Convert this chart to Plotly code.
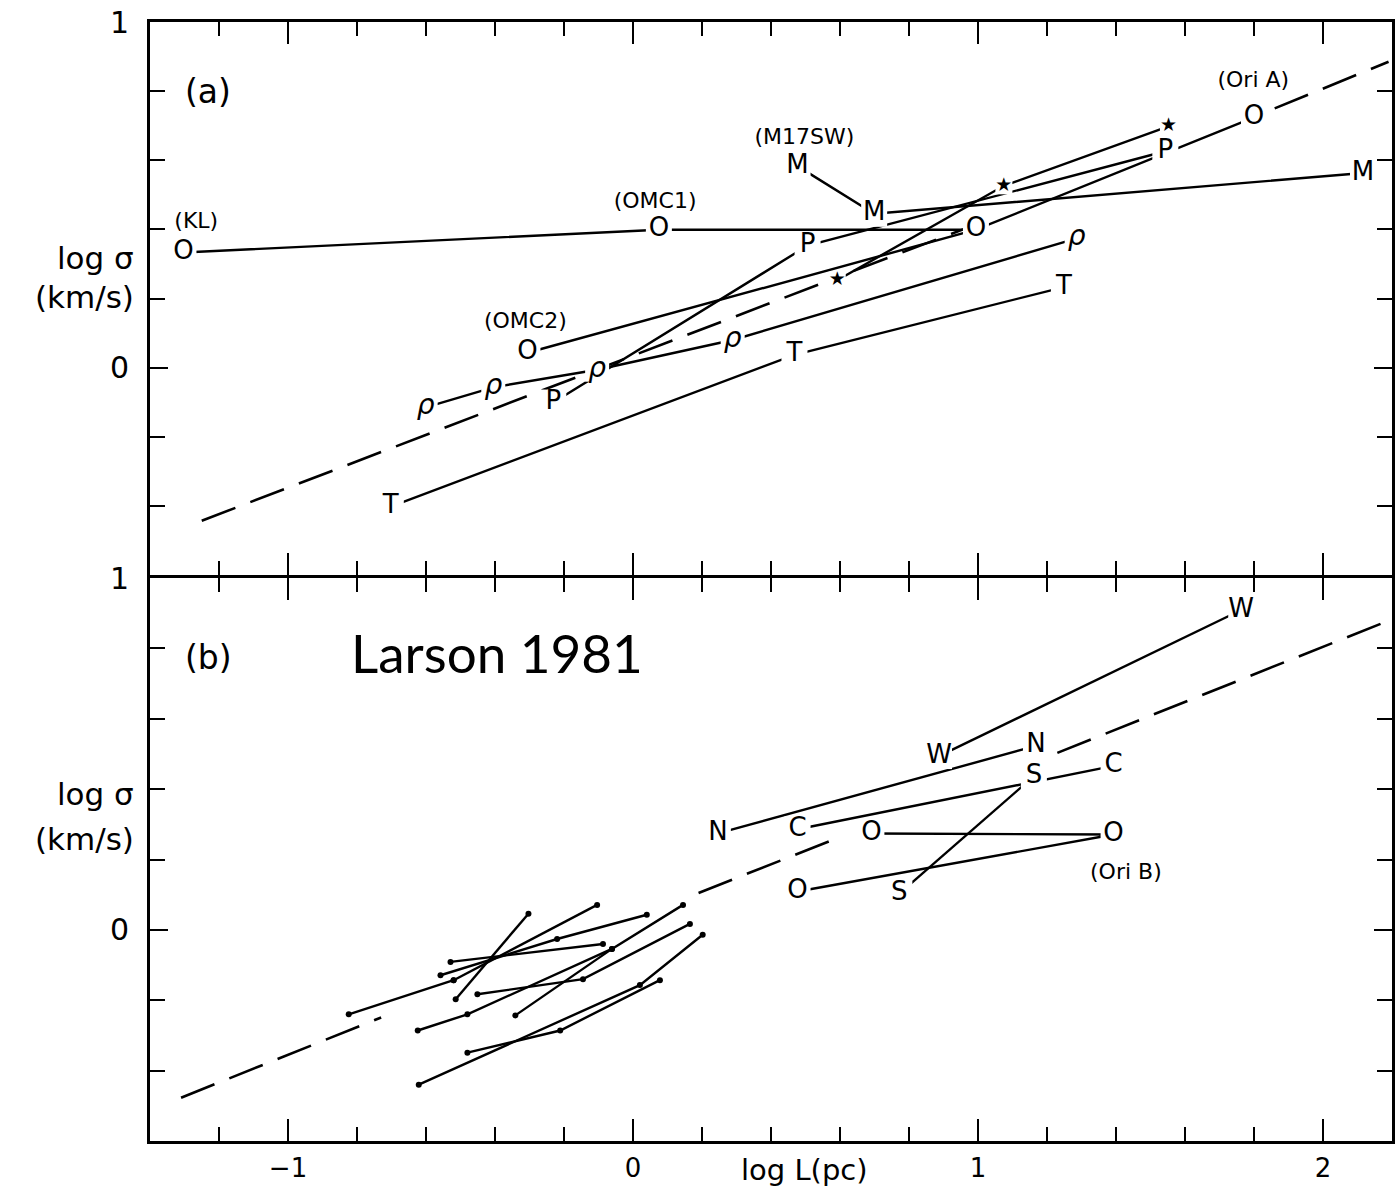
import plotly.graph_objects as go

FONT = "DejaVu Sans"

# ---------------- Panel (a): log sigma vs log L, labelled measurements ----------------
a_O1_x = [-1.303, 0.075, 0.994]
a_O1_y = [0.333, 0.399, 0.399]
a_O2_x = [-0.306, 0.994, 1.800]
a_O2_y = [0.043, 0.399, 0.724]
a_M_x = [0.477, 0.699, 2.116]
a_M_y = [0.583, 0.445, 0.563]
a_P_x = [-0.231, 0.506, 1.543]
a_P_y = [-0.101, 0.353, 0.626]
a_rho_x = [-0.601, -0.405, -0.104, 0.289, 1.286]
a_rho_y = [-0.115, -0.057, -0.006, 0.080, 0.374]
a_T_x = [-0.702, 0.468, 1.249]
a_T_y = [-0.402, 0.037, 0.233]
a_star_x = [0.592, 1.075, 1.552]
a_star_y = [0.253, 0.526, 0.698]
# dashed relation (visible pieces)
a_fit_x = [-1.25, 0.55, None, 0.64, 0.97, None, 1.86, 2.19]
a_fit_y = [-0.443, 0.245, None, 0.280, 0.405, None, 0.750, 0.885]

a_names = ["(KL)", "(OMC1)", "(M17SW)", "(OMC2)", "(Ori A)"]
a_names_x = [-1.266, 0.064, 0.497, -0.312, 1.798]
a_names_y = [0.420, 0.477, 0.664, 0.132, 0.828]

# ---------------- Panel (b) ----------------
b_W_x = [0.887, 1.763]
b_W_y = [0.494, 0.909]
b_N_x = [0.246, 1.168]
b_N_y = [0.274, 0.523]
b_C_x = [0.477, 1.393]
b_C_y = [0.286, 0.466]
b_S_x = [1.162, 0.772]
b_S_y = [0.437, 0.103]
b_O_x = [0.691, 1.393, 0.477]
b_O_y = [0.274, 0.271, 0.109]
b_fit_x = [-1.31, -0.73, None, 0.19, 0.59, None, 1.23, 2.17]
b_fit_y = [-0.477, -0.249, None, 0.105, 0.260, None, 0.503, 0.871]
# small clouds (dot-ended segments)
b_small_x = [-0.824, -0.520, None,
             -0.624, -0.480, -0.061, None,
             -0.514, -0.303, None,
             -0.520, -0.104, None,
             -0.558, -0.220, 0.040, None,
             -0.529, -0.087, None,
             -0.451, -0.145, 0.165, None,
             -0.341, -0.061, 0.145, None,
             -0.480, -0.211, 0.078, None,
             -0.621, 0.020, 0.202]
b_small_y = [-0.240, -0.143, None,
             -0.286, -0.240, -0.054, None,
             -0.197, 0.046, None,
             -0.143, 0.071, None,
             -0.129, -0.026, 0.043, None,
             -0.091, -0.040, None,
             -0.183, -0.140, 0.017, None,
             -0.243, -0.054, 0.071, None,
             -0.349, -0.286, -0.143, None,
             -0.440, -0.157, -0.014]

x_ticks = [-1, 0, 1, 2]
x_ticktext = ["−1", "0", "1", "2"]
y_ticks = [0, 1]
y_ticktext = ["0", "1"]

fig = go.Figure()


def add_line(xs, ys, xa, ya, dash=None, markers=False):
    line = dict(color="black", width=2.4)
    if dash:
        line["dash"] = dash
        line["width"] = 2.6
    fig.add_trace(go.Scatter(
        x=xs, y=ys, xaxis=xa, yaxis=ya,
        mode="lines+markers" if markers else "lines",
        line=line, marker=dict(size=6, color="black", opacity=1),
        hoverinfo="skip", connectgaps=False))


def add_labels(sym_groups, xa, ya):
    seen = {}
    for sym, xs, ys in sym_groups:
        for x, y in zip(xs, ys):
            seen[(x, y)] = sym
    tx, ty, tt, ts, ms = [], [], [], [], []
    for (x, y), sym in seen.items():
        tx.append(x)
        ty.append(y)
        if sym == "rho":
            tt.append("<i>ρ</i>"); ts.append(28); ms.append(24)
        elif sym == "star":
            tt.append("★"); ts.append(19); ms.append(17)
        else:
            tt.append(sym); ts.append(26); ms.append(26)
    fig.add_trace(go.Scatter(
        x=tx, y=ty, xaxis=xa, yaxis=ya, mode="markers+text",
        marker=dict(symbol="square", size=ms, color="white", opacity=1,
                    line=dict(width=0)),
        text=tt, textposition="middle center",
        textfont=dict(family=FONT, size=ts, color="black"),
        hoverinfo="skip", cliponaxis=False))


# panel (a) lines
add_line(a_fit_x, a_fit_y, "x", "y", dash="36px,16px")
for xs, ys in [(a_O1_x, a_O1_y), (a_O2_x, a_O2_y), (a_M_x, a_M_y), (a_P_x, a_P_y),
               (a_rho_x, a_rho_y), (a_T_x, a_T_y), (a_star_x, a_star_y)]:
    add_line(xs, ys, "x", "y")
add_labels([("O", a_O1_x, a_O1_y), ("O", a_O2_x, a_O2_y), ("M", a_M_x, a_M_y),
            ("P", a_P_x, a_P_y), ("rho", a_rho_x, a_rho_y), ("T", a_T_x, a_T_y),
            ("star", a_star_x, a_star_y)], "x", "y")
fig.add_trace(go.Scatter(x=a_names_x, y=a_names_y, xaxis="x", yaxis="y", mode="text",
                         text=a_names, textfont=dict(family=FONT, size=22, color="black"),
                         hoverinfo="skip", cliponaxis=False))

# panel (b) lines
add_line(b_fit_x, b_fit_y, "x2", "y2", dash="36px,16px")
add_line(b_small_x, b_small_y, "x2", "y2", markers=True)
for xs, ys in [(b_W_x, b_W_y), (b_N_x, b_N_y), (b_C_x, b_C_y), (b_S_x, b_S_y), (b_O_x, b_O_y)]:
    add_line(xs, ys, "x2", "y2")
add_labels([("W", b_W_x, b_W_y), ("N", b_N_x, b_N_y), ("C", b_C_x, b_C_y),
            ("S", b_S_x, b_S_y), ("O", b_O_x, b_O_y)], "x2", "y2")

ax_common = dict(showline=True, linewidth=3, linecolor="black", mirror="allticks",
                 showgrid=False, zeroline=False, ticks="inside", tickcolor="black",
                 tickwidth=2, automargin=False)
xax = dict(ax_common, range=[-1.4, 2.2], tickmode="array", tickvals=x_ticks,
           ticktext=x_ticktext, ticklen=22,
           minor=dict(ticks="inside", tickmode="linear", tick0=0, dtick=0.2,
                      ticklen=14, tickwidth=2, tickcolor="black"))
yax = dict(ax_common, range=[-0.6, 1.0], tickmode="array", tickvals=y_ticks,
           ticktext=y_ticktext, ticklen=18, ticklabelstandoff=12,
           tickfont=dict(family=FONT, size=30, color="black"),
           minor=dict(ticks="inside", tickmode="linear", tick0=0, dtick=0.2,
                      ticklen=15, tickwidth=2, tickcolor="black"))
PLOT_H = 1119
split = 563 / PLOT_H
gap = 3 / PLOT_H  # lets the two shared border lines coincide

fig.update_layout(
    width=1400, height=1190,
    margin=dict(l=150, r=8, t=22, b=49, autoexpand=False),
    paper_bgcolor="white", plot_bgcolor="white", showlegend=False,
    font=dict(family=FONT, color="black"),
    xaxis=dict(xax, domain=[0, 1], anchor="y", showticklabels=False),
    yaxis=dict(yax, domain=[split + gap, 1], anchor="x"),
    xaxis2=dict(xax, domain=[0, 1], anchor="y2", showticklabels=True,
                ticklabelstandoff=2, tickfont=dict(family=FONT, size=26, color="black")),
    yaxis2=dict(yax, domain=[0, split], anchor="x2"),
)

ann = []
ann.append(dict(text="(a)", x=-1.231, y=0.799, xref="x", yref="y", showarrow=False,
                font=dict(family=FONT, size=33)))
ann.append(dict(text="(b)", x=-1.231, y=0.774, xref="x2", yref="y2", showarrow=False,
                font=dict(family=FONT, size=33)))
ann.append(dict(text="Larson 1981", x=-0.393, y=0.789, xref="x2", yref="y2", showarrow=False,
                font=dict(family="Lato", size=53, color="black")))
ann.append(dict(text="(Ori B)", x=1.428, y=0.166, xref="x2", yref="y2", showarrow=False,
                font=dict(family=FONT, size=22)))
for yr, y1, y2 in [("y", 0.316, 0.204), ("y2", 0.386, 0.257)]:
    ann.append(dict(text="log σ", x=-0.011, y=y1, xref="paper", yref=yr, xanchor="right",
                    showarrow=False, font=dict(family=FONT, size=31)))
    ann.append(dict(text="(km/s)", x=-0.011, y=y2, xref="paper", yref=yr, xanchor="right",
                    showarrow=False, font=dict(family=FONT, size=31)))
ann.append(dict(text="log L(pc)", x=0.497, y=-0.026, xref="x2", yref="paper",
                yanchor="middle", showarrow=False, font=dict(family=FONT, size=29)))
fig.update_layout(annotations=ann)

fig.write_html("out.html")
